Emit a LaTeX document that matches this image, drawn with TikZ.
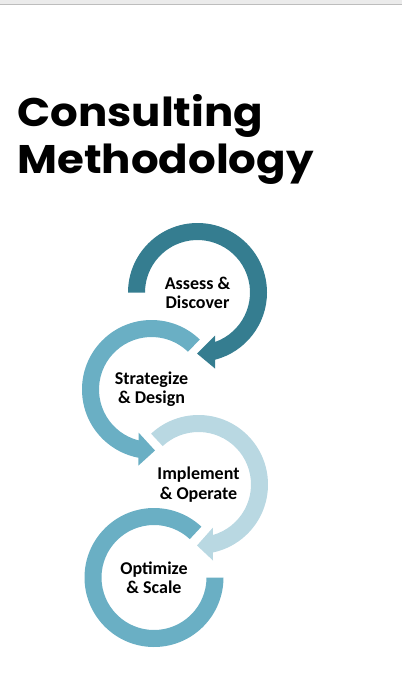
\documentclass[tikz,border=0pt]{standalone}
\usepackage{fontspec}
\usetikzlibrary{positioning}
\newfontfamily\headfont{Poppins}[FakeStretch=1.09]
\newfontfamily\stagefont{Carlito}
\definecolor{tealdark}{HTML}{357D90}
\definecolor{tealmid}{HTML}{6AAFC4}
\definecolor{teallight}{HTML}{B9D8E2}
\definecolor{barfill}{HTML}{EBEBEB}
\definecolor{barline}{HTML}{BDBDBD}
\tikzset{
  head/.style={anchor=base west, inner sep=0pt,
               font=\headfont\bfseries\fontsize{28.4}{34}\selectfont},
  stage/.style={align=center, inner sep=0pt,
                font=\stagefont\bfseries\fontsize{12.8}{13.7}\selectfont},
}

\begin{document}
\begin{tikzpicture}[x=0.025cm, y=0.025cm]
  \useasboundingbox (0,0) rectangle (402,-687);
  % window bar
  \fill[barfill] (0,0) rectangle (402,-4);
  \draw[barline, line width=0.7pt] (0,-4) -- (402,-4);

  \node[head] (title1) at (17,-126) {Consulting};
  \node[head] (title2) at (17,-173) {Methodology};

  % ring 1, clockwise
  \begin{scope}[shift={(197.5,-292.5)}]
    \fill[tealdark] (180:69.5) arc[start angle=180, end angle=-75.4, radius=69.5]
      -- (17.5,-76) -- (-0.5,-61) -- (17.5,-43) -- (-70.5:52.5)
      arc[start angle=-70.5, end angle=180, radius=52.5] -- cycle;
  \end{scope}
  % ring 2, counter clockwise
  \begin{scope}[shift={(151.5,-389.5)}]
    \fill[tealmid] (46:69.5) arc[start angle=46, end angle=259.2, radius=69.5]
      -- (-13,-76) -- (3.5,-61) -- (-13,-43) -- (255.7:52.5)
      arc[start angle=255.7, end angle=46, radius=52.5] -- cycle;
  \end{scope}
  % ring 3, clockwise
  \begin{scope}[shift={(198.5,-484.5)}]
    \fill[teallight] (133:69.5) arc[start angle=133, end angle=-78, radius=69.5]
      -- (14.5,-76) -- (-1.5,-61) -- (14.5,-43) -- (-74:52.5)
      arc[start angle=-74, end angle=133, radius=52.5] -- cycle;
  \end{scope}
  % ring 4, no head
  \begin{scope}[shift={(154,-577.5)}]
    \fill[tealmid] (47:69.5) arc[start angle=47, end angle=360, radius=69.5]
      -- (0:52.5) arc[start angle=360, end angle=47, radius=52.5] -- cycle;
  \end{scope}

  \node[stage] (assess) at (197.5,-292.5) {Assess \&\\Discover};
  \node[stage] (strategize) at (151.5,-389.5) {Strategize\\\& Design};
  \node[stage] (implement) at (198.5,-484.5) {Implement\\\& Operate};
  \node[stage] (optimize) at (154,-577.5) {Optimize\\\& Scale};
\end{tikzpicture}
\end{document}
